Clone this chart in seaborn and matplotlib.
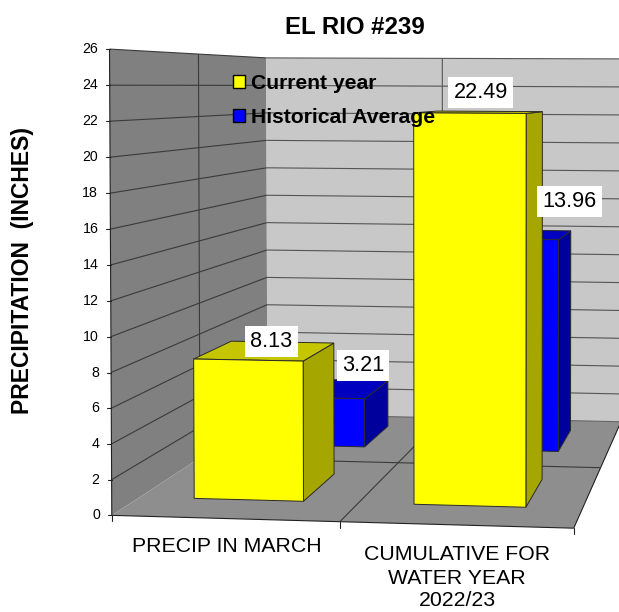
import numpy as np
import pandas as pd
import seaborn as sns
import matplotlib

matplotlib.use("Agg")
import matplotlib.pyplot as plt
import matplotlib.transforms as mtransforms
from matplotlib.patches import Polygon, Patch

CATEGORIES = ["PRECIP IN MARCH", "CUMULATIVE FOR\nWATER YEAR\n2022/23"]
SERIES = ["Current year", "Historical Average"]
CURRENT_YEAR = [8.13, 22.49]
HISTORICAL = [3.21, 13.96]
VALUE_TICKS = list(range(0, 28, 2))

FRONT = {"Current year": "#FFFF00", "Historical Average": "#0000FF"}
TOP = {"Current year": "#C6C600", "Historical Average": "#0000C0"}
SIDE = {"Current year": "#A6A600", "Historical Average": "#00009C"}
DEPTH_START = {"Current year": 0.29, "Historical Average": 1.30}
DEPTH_SIZE = 0.47
BAR_WIDTH = 0.50

# where the box corners of the 3d chart landed in the image: (cat, depth, value) -> px
BOX_CALIB = [
    (-0.5, 0, 0, 113, 513),
    (1.5, 0, 0, 575, 528),
    (0.5, 0, 0, 340, 521.7),
    (-0.5, 2, 0, 267, 415),
    (1.5, 2, 0, 620, 422),
    (1.5, 1, 0, 602, 467),
    (-0.5, 0, 26, 108, 50.5),
    (-0.5, 1, 26, 199, 54),
    (-0.5, 2, 26, 267, 57),
    (0.5, 2, 26, 444, 58),
    (1.5, 2, 26, 620, 59),
]
# front corners of the yellow bars, seen in the reference
BAR_CALIB = [
    (-0.25, 0.29, 0, 191.7, 499),
    (0.25, 0.29, 0, 301, 502),
    (0.75, 0.29, 0, 412, 505),
    (1.25, 0.29, 0, 526, 509),
    (-0.25, 0.29, 8.13, 191.7, 361),
    (0.25, 0.29, 8.13, 301, 362.7),
    (0.75, 0.29, 22.49, 413, 113),
    (1.25, 0.29, 22.49, 528, 113),
]


def fitCamera(points):
    rows, rhs = [], []
    for x, d, v, u, w in points:
        rows.append([x, d, v, 1, 0, 0, 0, 0, -u * x, -u * d, -u * v])
        rhs.append(u)
        rows.append([0, 0, 0, 0, x, d, v, 1, -w * x, -w * d, -w * v])
        rhs.append(w)
    sol = np.linalg.lstsq(np.array(rows, float), np.array(rhs, float), rcond=None)[0]
    return np.append(sol, 1).reshape(3, 4)


CAMERA = fitCamera(BOX_CALIB * 4 + BAR_CALIB)


def project(x, d, v):
    x, d, v = np.broadcast_arrays(np.asarray(x, float), np.asarray(d, float), np.asarray(v, float))
    pts = np.stack([x.ravel(), d.ravel(), v.ravel(), np.ones(x.size)])
    uvw = CAMERA @ pts
    return np.column_stack([uvw[0] / uvw[2], uvw[1] / uvw[2]])


class DepthPlane(mtransforms.Transform):
    # (category, value) on a plane of constant depth -> image pixels
    input_dims = 2
    output_dims = 2
    is_separable = False

    def __init__(self, plane_depth):
        super().__init__()
        self.plane_depth = plane_depth

    def transform_non_affine(self, values):
        values = np.asarray(values, float)
        return project(values[:, 0], self.plane_depth, values[:, 1])


def quad(ax, corners, color, zorder, edge="#2a2a2a", lw=0.7):
    xs, ds, vs = zip(*corners)
    ax.add_patch(Polygon(project(xs, ds, vs), closed=True, facecolor=color, edgecolor=edge, linewidth=lw, zorder=zorder))


def line3d(ax, start, end, color="#3a3a3a", lw=0.8, zorder=2):
    pts = project(*zip(start, end))
    ax.add_line(plt.Line2D(pts[:, 0], pts[:, 1], color=color, linewidth=lw, zorder=zorder, solid_capstyle="butt"))


sns.set_theme(style="white")
plt.rcParams["font.family"] = ["Liberation Sans", "DejaVu Sans"]

df = pd.DataFrame(
    {
        "period": CATEGORIES * 2,
        "series": [SERIES[0]] * 2 + [SERIES[1]] * 2,
        "inches": CURRENT_YEAR + HISTORICAL,
    }
)

fig = plt.figure(figsize=(6.19, 6.12), dpi=100)
ax = fig.add_axes([0, 0, 1, 1])
sns.barplot(
    data=df,
    x="period",
    y="inches",
    hue="series",
    palette=FRONT,
    dodge=False,
    width=BAR_WIDTH,
    saturation=1,
    edgecolor="#2a2a2a",
    linewidth=0.7,
    legend=False,
    ax=ax,
)
ax.set_xlim(0, 619)
ax.set_ylim(612, 0)
ax.set_axis_off()

# walls and floor
quad(ax, [(-0.5, 0, 0), (-0.5, 2, 0), (-0.5, 2, 26), (-0.5, 0, 26)], "#808080", 1, edge="none")
quad(ax, [(-0.5, 2, 0), (1.5, 2, 0), (1.5, 2, 26), (-0.5, 2, 26)], "#C8C8C8", 1, edge="none")
quad(ax, [(-0.5, 0, 0), (1.5, 0, 0), (1.5, 2, 0), (-0.5, 2, 0)], "#8E8E8E", 1, edge="none")

for tick in VALUE_TICKS[1:]:
    line3d(ax, (-0.5, 0, tick), (-0.5, 2, tick))
    line3d(ax, (-0.5, 2, tick), (1.5, 2, tick), color="#555555")
line3d(ax, (-0.5, 1, 0), (-0.5, 1, 26))
line3d(ax, (0.5, 2, 0), (0.5, 2, 26), color="#555555")
line3d(ax, (0.5, 0, 0), (0.5, 2, 0))
line3d(ax, (-0.5, 1, 0), (1.5, 1, 0))
line3d(ax, (-0.5, 2, 0), (1.5, 2, 0), color="#666666")
line3d(ax, (1.5, 0, 0), (1.5, 2, 0), color="#222222")

# axis lines, ticks and labels
line3d(ax, (-0.5, 0, 0), (-0.5, 0, 26), color="#222222", zorder=3)
line3d(ax, (-0.5, 0, 0), (1.5, 0, 0), color="#222222", zorder=3)
for tick in VALUE_TICKS:
    px, py = project(-0.5, 0, tick)[0]
    ax.plot([px - 4, px], [py, py], color="#222222", linewidth=0.8, zorder=3)
    ax.text(px - 12, py, str(tick), ha="right", va="center", fontsize=10.2, color="black")
for pos in [-0.5, 0.5, 1.5]:
    px, py = project(pos, 0, 0)[0]
    ax.plot([px, px], [py, py + 6], color="#222222", linewidth=0.8, zorder=3)

# seaborn drew the front faces, push them onto their depth plane and extrude
for name, container in zip(SERIES, ax.containers):
    near = DEPTH_START[name]
    far = near + DEPTH_SIZE
    order = 5 if name == SERIES[0] else 4
    plane = DepthPlane(near) + ax.transData
    for rect in container:
        rect.set_transform(plane)
        rect.set_zorder(order + 0.2)
        rect.set_snap(False)
        x0, x1 = rect.get_x(), rect.get_x() + rect.get_width()
        val = rect.get_height()
        quad(ax, [(x1, near, 0), (x1, far, 0), (x1, far, val), (x1, near, val)], SIDE[name], order)
        quad(ax, [(x0, near, val), (x1, near, val), (x1, far, val), (x0, far, val)], TOP[name], order)

# value labels, offsets from the middle of each bar top
offsets = {
    (SERIES[0], 0): (5.5, -9),
    (SERIES[1], 0): (33, -23),
    (SERIES[0], 1): (0.5, -20),
    (SERIES[1], 1): (52, -33),
}
for name, values in zip(SERIES, [CURRENT_YEAR, HISTORICAL]):
    for i, val in enumerate(values):
        px, py = project(i, DEPTH_START[name] + DEPTH_SIZE / 2, val)[0]
        dx, dy = offsets[(name, i)]
        ax.text(
            px + dx,
            py + dy,
            f"{val:.2f}",
            ha="center",
            va="center",
            fontsize=15.6,
            color="black",
            zorder=8,
            bbox=dict(facecolor="white", edgecolor="none", pad=3.8),
        )

ax.text(227, 547, CATEGORIES[0], ha="center", va="center", fontsize=15.3, color="black")
for line, ypos in zip(CATEGORIES[1].split("\n"), [554, 578, 601]):
    ax.text(457, ypos, line, ha="center", va="center", fontsize=15.3, color="black")
ax.text(355, 28, "EL RIO #239", ha="center", va="center", fontsize=17.3, fontweight="bold", color="black")
ax.text(
    23, 271, "PRECIPITATION  (INCHES)", rotation=90, ha="center", va="center",
    fontsize=16.5, fontweight="bold", color="black",
)

handles = [Patch(facecolor=FRONT[s], edgecolor="black", linewidth=1.0, label=s) for s in SERIES]
leg = ax.legend(
    handles=handles,
    loc="upper left",
    bbox_to_anchor=(231 / 619, 1 - 72 / 612),
    frameon=False,
    prop={"size": 15.2, "weight": "bold"},
    handlelength=0.58,
    handleheight=0.58,
    handletextpad=0.25,
    labelspacing=0.70,
    borderaxespad=0,
    borderpad=0.1,
)
leg.set_zorder(9)
for text in leg.get_texts():
    text.set_color("black")

fig.savefig("out.png", dpi=100)
